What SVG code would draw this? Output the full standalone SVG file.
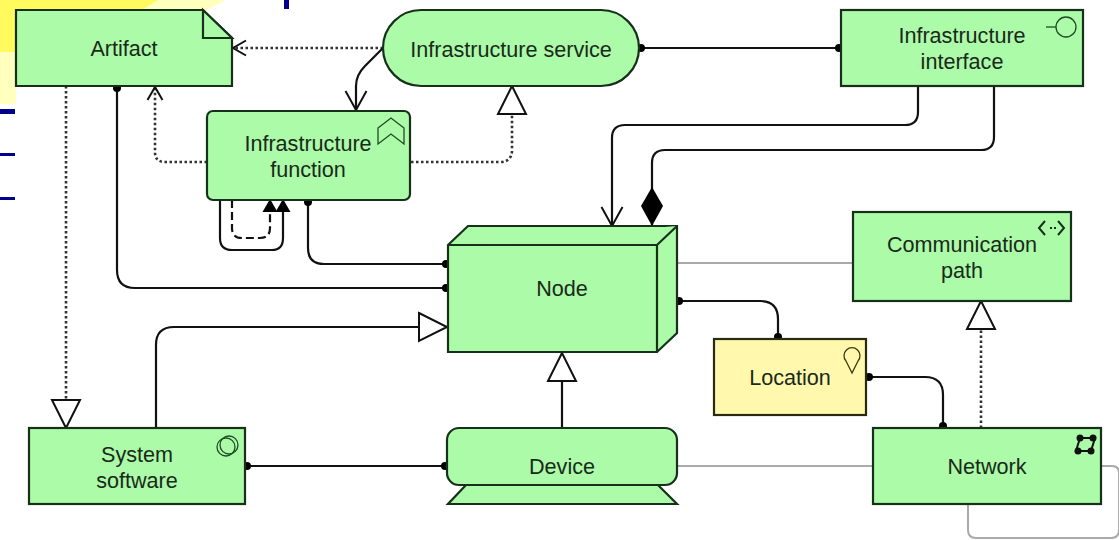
<svg xmlns="http://www.w3.org/2000/svg" width="1119" height="540" viewBox="0 0 1119 540">
<defs>
<marker id="dot" markerUnits="userSpaceOnUse" markerWidth="10" markerHeight="10" refX="5" refY="5" orient="auto"><circle cx="5" cy="5" r="4" fill="#000"/></marker>
<marker id="open" markerUnits="userSpaceOnUse" markerWidth="24" markerHeight="26" refX="21" refY="13" orient="auto"><path d="M2 2.500L21 13L2 23.500" fill="none" stroke="#111" stroke-width="2"/></marker>
<marker id="openS" markerUnits="userSpaceOnUse" markerWidth="18" markerHeight="18" refX="15" refY="9" orient="auto"><path d="M2 1.500L15 9L2 16.500" fill="none" stroke="#111" stroke-width="2"/></marker>
<marker id="tri" markerUnits="userSpaceOnUse" markerWidth="34" markerHeight="34" refX="30" refY="17" orient="auto"><path d="M2 3L30 17L2 31Z" fill="#fff" stroke="#111" stroke-width="2"/></marker>
<marker id="solid" markerUnits="userSpaceOnUse" markerWidth="18" markerHeight="20" refX="14" refY="10" orient="auto"><path d="M1 2.500L14 10L1 17.500Z" fill="#000"/></marker>
<marker id="diamond" markerUnits="userSpaceOnUse" markerWidth="44" markerHeight="26" refX="41" refY="13" orient="auto"><path d="M2 13L21 2L41 13L21 24Z" fill="#000"/></marker>
</defs>
<style>
text{font-family:"Liberation Sans",Arial,sans-serif;font-size:21.600px;fill:#1a2a1a;text-anchor:middle}
.n{fill:#abfba8;stroke:#16301a;stroke-width:2.200}
.y{fill:#fff8ad;stroke:#2a2a10;stroke-width:2.200}
.c{fill:none;stroke:#111;stroke-width:2.200}
.d{fill:none;stroke:#333;stroke-width:2.600;stroke-dasharray:2.500 2.500}
.g{fill:none;stroke:#aaa;stroke-width:2}
.i{fill:none;stroke:#1f4a24;stroke-width:1.300}
.b{fill:#00008f}
</style>
<rect width="1119" height="540" fill="#fff"/>
<path d="M0 0H226L205 11H16V104H0Z" fill="#ffffbe"/>
<path d="M0 0H158L140 11H16V52H0Z" fill="#fffb5e"/>
<rect class="b" x="284" y="0" width="5" height="9"/>
<rect class="b" x="0" y="109" width="15" height="5"/>
<rect class="b" x="0" y="153" width="15" height="3"/>
<rect class="b" x="0" y="197" width="15" height="3"/>
<g id="connectors">
<path class="d" d="M383 48H233" marker-end="url(#openS)"/>
<path class="c" d="M383 48L365 66Q356 75 356 86V110" marker-end="url(#open)"/>
<path class="c" d="M641 48H839" marker-start="url(#dot)" marker-end="url(#dot)"/>
<path class="d" d="M207 162H165Q155 162 155 152V87" marker-end="url(#openS)"/>
<path class="d" d="M411 162H500Q512 162 512 150V86" marker-end="url(#tri)"/>
<path class="c" d="M918 86V112Q918 125 905 125H625Q612 125 612 138V226" marker-end="url(#open)"/>
<path class="c" d="M994 86V137Q994 150 981 150H665Q652 150 652 163V226" marker-end="url(#diamond)"/>
<path class="d" d="M66 86V428" marker-end="url(#tri)"/>
<path class="c" d="M117 88V270Q117 288 135 288H446" marker-start="url(#dot)" marker-end="url(#dot)"/>
<path class="c" d="M308 202V248Q308 264 324 264H446" marker-start="url(#dot)" marker-end="url(#dot)"/>
<path class="c" d="M220 200V238Q220 250 232 250H272Q283 250 283 238V199" marker-end="url(#solid)"/>
<path fill="none" stroke="#111" stroke-width="2.200" stroke-dasharray="8 4" d="M232 200V228Q232 238 242 238H260Q270 238 270 228V199" marker-end="url(#solid)"/>
<path class="c" d="M156 428V345Q156 327 174 327H447" marker-end="url(#tri)"/>
<path class="c" d="M247 466H445" marker-start="url(#dot)" marker-end="url(#dot)"/>
<path class="c" d="M562 428V353" marker-end="url(#tri)"/>
<path class="g" d="M677 263H853"/>
<path class="c" d="M679 301H760Q778 301 778 319V337" marker-start="url(#dot)" marker-end="url(#dot)"/>
<path class="c" d="M869 377H925Q943 377 943 395V426" marker-start="url(#dot)" marker-end="url(#dot)"/>
<path class="d" d="M981 428V301" marker-end="url(#tri)"/>
<path class="g" d="M677 466H873"/>
<path class="g" d="M1101 466H1112Q1119 466 1119 473V530Q1119 538 1111 538H976Q968 538 968 530V504"/>
</g>
<g id="artifact"><path class="n" d="M16 10H203L232 38V86H16Z"/><path class="n" d="M203 10V38H232Z"/><text x="124" y="56">Artifact</text></g>
<g id="infrastructure-service"><rect class="n" x="383" y="10" width="256" height="76" rx="38"/><text x="511" y="57">Infrastructure service</text></g>
<g id="infrastructure-interface"><rect class="n" x="841" y="10" width="242" height="76"/><circle class="i" cx="1066" cy="27" r="10"/><path class="i" d="M1046 27H1056"/><text x="962" y="43">Infrastructure</text><text x="962" y="69">interface</text></g>
<g id="infrastructure-function"><rect class="n" x="207" y="111" width="203" height="89" rx="6"/><path class="i" d="M378 128L391 118L404 128V144L391 134L378 144Z"/><text x="308" y="151">Infrastructure</text><text x="308" y="177">function</text></g>
<g id="node"><path class="n" d="M448 245L468 226H677V333L657 352H448Z"/><path class="n" d="M448 245H657L677 226M657 245V352" fill="none"/><text x="562" y="296">Node</text></g>
<g id="communication-path"><rect class="n" x="853" y="212" width="218" height="89"/><path d="M1045 221L1039 228L1045 235M1058 221L1064 228L1058 235" fill="none" stroke="#16301a" stroke-width="2"/><path d="M1050 228h2M1054 228h2" stroke="#16301a" stroke-width="2"/><text x="962" y="252">Communication</text><text x="962" y="278">path</text></g>
<g id="location"><rect class="y" x="714" y="339" width="152" height="76"/><path d="M852 373L846 361A8 8 0 1 1 858 361Z" fill="none" stroke="#3a3a10" stroke-width="1.300"/><text x="790" y="385">Location</text></g>
<g id="system-software"><rect class="n" x="29" y="428" width="216" height="76"/><circle class="i" cx="229" cy="445" r="9"/><circle class="i" cx="226" cy="447" r="9" fill="#abfba8"/><text x="137" y="462">System</text><text x="137" y="488">software</text></g>
<g id="device"><path class="n" d="M466 485L448 504H677L658 485Z"/><rect class="n" x="447" y="428" width="230" height="57" rx="12"/><text x="562" y="474">Device</text></g>
<g id="network"><rect class="n" x="873" y="428" width="228" height="76"/><path d="M1080 438L1076 451H1091L1095 438Z" fill="none" stroke="#111" stroke-width="2"/><g fill="#111"><circle cx="1080" cy="438" r="3.500"/><circle cx="1093" cy="438" r="3.500"/><circle cx="1078" cy="451" r="3.500"/><circle cx="1091" cy="451" r="3.500"/></g><text x="987" y="474">Network</text></g>
</svg>
